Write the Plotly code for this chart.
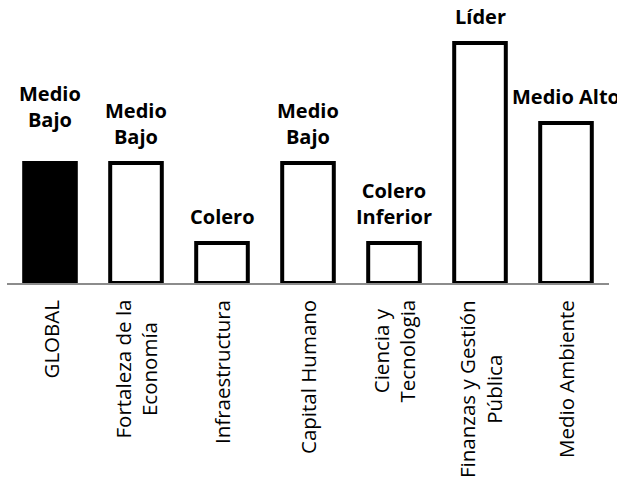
import plotly.graph_objects as go

categories = ["GLOBAL", "Fortaleza de la<br>Economía", "Infraestructura", "Capital Humano",
              "Ciencia y<br>Tecnologia", "Finanzas y Gestión<br>Pública", "Medio Ambiente"]
values = [3, 3, 1, 3, 1, 6, 4]
levels = ["Medio<br>Bajo", "Medio<br>Bajo", "Colero", "Medio<br>Bajo",
          "Colero<br>Inferior", "Líder", "Medio Alto"]
fills = ["black", "white", "white", "white", "white", "white", "white"]

FONT = "Open Sans"
fig = go.Figure()
fig.add_trace(go.Bar(
    x=list(range(len(categories))), y=values,
    marker=dict(color=fills, line=dict(color="black", width=4)),
    width=0.6, hoverinfo="skip",
))

label_shift = [28, 11, 11, 11, 11, 11, 11]
for i, (lv, v) in enumerate(zip(levels, values)):
    fig.add_annotation(x=i, y=v, xref="x", yref="y", text="<b>%s</b>" % lv,
                       showarrow=False, yanchor="bottom", xanchor="center",
                       yshift=label_shift[i], align="center",
                       font=dict(family=FONT, size=20, color="black"))

for i, c in enumerate(categories):
    fig.add_annotation(x=i, y=0, xref="x", yref="y", text=c, textangle=-90,
                       showarrow=False, yanchor="top", xanchor="center",
                       yshift=-15, align="center",
                       font=dict(family=FONT, size=20.5, color="black"))

fig.update_layout(
    width=617, height=481,
    margin=dict(l=7, r=8, t=35, b=198),
    paper_bgcolor="white", plot_bgcolor="white",
    showlegend=False,
    xaxis=dict(range=[-0.5, 6.5], showticklabels=False, showgrid=False, zeroline=False,
               showline=True, linecolor="#8c8c8c", linewidth=2, ticks=""),
    yaxis=dict(range=[0, 6.2], visible=False, showgrid=False, zeroline=False),
)
fig.write_html("out.html", config={"displayModeBar": False},
               post_script="document.body.style.margin='0';")
